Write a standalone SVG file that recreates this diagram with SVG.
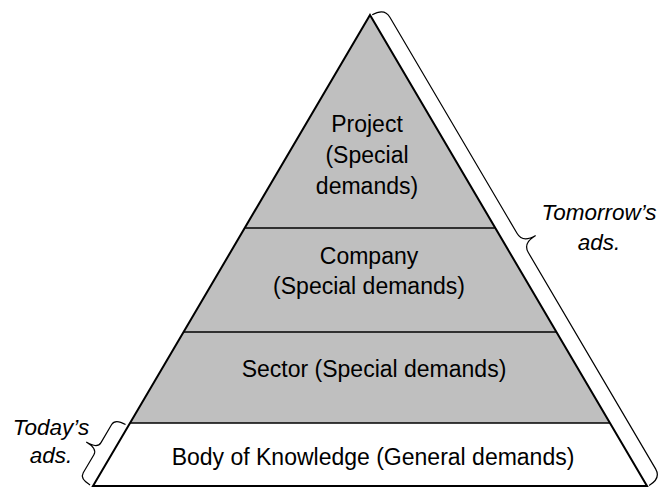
<svg xmlns="http://www.w3.org/2000/svg" width="660" height="488" viewBox="0 0 660 488">
<style>
.layer{fill:#bfbfbf;stroke:none}
.body{fill:#ffffff;stroke:none}
.div{stroke:#000;stroke-width:1.5;fill:none}
.outline{fill:none;stroke:#000;stroke-width:2;stroke-linejoin:miter}
.brace{fill:none;stroke:#000;stroke-width:1.2}
.t{font-family:"Liberation Sans",Arial,sans-serif;font-size:23px;fill:#000;text-anchor:middle}
.lbl{font-family:"Liberation Sans",Arial,sans-serif;font-size:22.5px;font-style:italic;fill:#000;text-anchor:middle}
</style>
<rect width="660" height="488" fill="#fff"/>
<g id="layer-project">
<polygon class="layer" points="370,15 494.8,228 245.2,228"/>
<text class="t" x="367" y="132">Project</text>
<text class="t" x="367" y="163">(Special</text>
<text class="t" x="367" y="194">demands)</text>
</g>
<g id="layer-company">
<polygon class="layer" points="245.2,228 494.8,228 556.4,332 183.6,332"/>
<text class="t" x="369" y="264">Company</text>
<text class="t" x="369" y="294">(Special demands)</text>
</g>
<g id="layer-sector">
<polygon class="layer" points="183.6,332 556.4,332 610,423 130,423"/>
<text class="t" x="374" y="377">Sector (Special demands)</text>
</g>
<g id="layer-body">
<polygon class="body" points="130,423 610,423 647,486 93,486"/>
<text class="t" x="373" y="465">Body of Knowledge (General demands)</text>
</g>
<g id="dividers">
<line class="div" x1="245.2" y1="228" x2="494.8" y2="228"/>
<line class="div" x1="183.6" y1="332" x2="556.4" y2="332"/>
<line class="div" x1="130" y1="423" x2="610" y2="423"/>
<polygon class="outline" points="370,15 647,486 93,486"/>
</g>
<g id="connectors">
<path id="brace-tomorrow" class="brace" transform="translate(370,15) rotate(59.53)" d="M1,-2 Q1,-16 12,-16 L263,-16 Q274,-16 274,-31 Q274,-16 285,-16 L536,-16 Q547,-16 547,-2"/>
<path id="brace-today" class="brace" transform="translate(370,15) rotate(120.47)" d="M477,3 Q477,15 484,15 L505,15 Q512,15 512,28 Q512,15 519,15 L540,15 Q547,15 547,3"/>
</g>
<g id="label-tomorrow">
<text class="lbl" x="599" y="220">Tomorrow’s</text>
<text class="lbl" x="599" y="250">ads.</text>
</g>
<g id="label-today">
<text class="lbl" x="51" y="435">Today’s</text>
<text class="lbl" x="51" y="463">ads.</text>
</g>
</svg>
